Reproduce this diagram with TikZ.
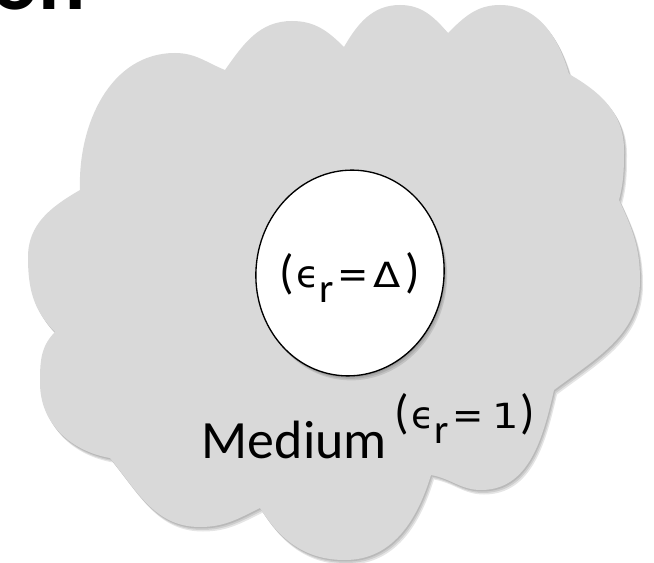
\documentclass[tikz,border=0pt]{standalone}
\usepackage{fontspec}
\usepackage{graphicx}
\setmainfont{Carlito}
\newfontfamily\dejavu{DejaVu Sans}
\usetikzlibrary{shapes.geometric}
\definecolor{cloudgray}{HTML}{D9D9D9}
\newcommand{\cloudoutline}{(80,-190) to[out=92,in=180] (175,-53) to[out=0,in=158] (225,-70)
 to[out=55,in=180] (292,-21) to[out=0,in=135] (344,-47)
 to[out=60,in=180] (400,-5) to[out=0,in=131] (448,-33)
 to[out=45,in=180] (500,-5) to[out=0,in=106] (569,-74)
 to[out=-30,in=90] (624,-150) to[out=-90,in=76] (619,-200)
 to[out=-65,in=90] (640,-280) to[out=-90,in=37] (554,-390)
 to[out=-103,in=0] (481,-490) to[out=180,in=-10] (431,-475)
 to[out=-107,in=0] (345,-560) to[out=180,in=-58] (260,-508)
 to[out=206,in=0] (200,-527) to[out=180,in=-51] (110,-458)
 to[out=170,in=-90] (40,-383) to[out=90,in=225] (55,-332)
 to[out=135,in=-90] (28,-257) to[out=90,in=210] (80,-190) -- cycle}
\newcommand{\glyphat}[2]{\rlap{\hspace*{#1}#2}}
\newcommand{\lpar}{\resizebox{!}{26.25pt}{(}}
\newcommand{\rpar}{\resizebox{!}{26.25pt}{)}}
\newcommand{\epsr}{\glyphat{0pt}{\lpar}%
  \glyphat{13pt}{\dejavu\fontsize{28}{28}\selectfont ϵ}%
  \glyphat{30.5pt}{\raisebox{-11.25pt}{\resizebox{!}{15pt}{r}}}%
  \glyphat{44pt}{\dejavu\fontsize{28}{28}\selectfont =}}
\begin{document}
\begin{tikzpicture}[x=0.75pt,y=0.75pt,
  shadowfill/.style={fill=black,opacity=0.10},
  txt/.style={inner sep=0pt,text=black}]
\useasboundingbox (0,0) rectangle (654,-563);
\clip (0,0) rectangle (654,-563);
% cloud shadow
\foreach \dx/\dy in {1/-1.5,2/-3,3/-4.5}{
  \fill[shadowfill,shift={(\dx,\dy)}] \cloudoutline;
}
\fill[cloudgray] \cloudoutline;
% inclusion shadow
\foreach \dx/\dy in {1/-1.5,2/-3,3/-4.5}{
  \fill[shadowfill] (350+\dx,-273+\dy) ellipse [x radius=94, y radius=103, rotate=-7];
}
\node[draw=black, line width=1pt, fill=white, ellipse, minimum width=141pt, minimum height=154.5pt, rotate=-7, inner sep=0pt] (incl) at (350,-273) {};
\node[txt, anchor=base west] (inner) at (279,-288)
  {\epsr\glyphat{70.5pt}{\scalebox{1.15}[1]{\dejavu\fontsize{26}{26}\selectfont Δ}}\glyphat{94.5pt}{\rpar}\hspace*{104pt}};
\node[txt, anchor=base west] (medium) at (201.5,-458) {\resizebox{138.75pt}{!}{Medium}};
\node[txt, anchor=base west] (epsone) at (394,-428)
  {\epsr\glyphat{73.5pt}{\scalebox{1.2}[1]{\dejavu\fontsize{26}{26}\selectfont 1}}\glyphat{94.5pt}{\rpar}\hspace*{104pt}};
\node[txt, anchor=base west, font=\bfseries\fontsize{66}{70}\selectfont] (title) at (-9,-9.5) {on};
\end{tikzpicture}
\end{document}
